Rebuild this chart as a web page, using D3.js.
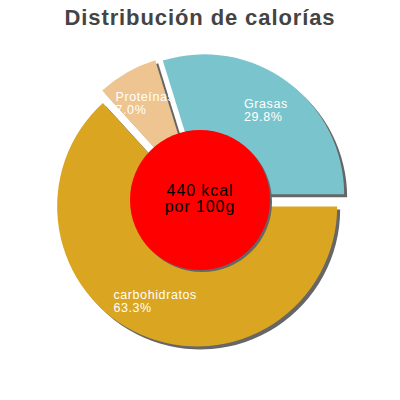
<!DOCTYPE html>
<html>
<head>
<meta charset="utf-8">
<script src="https://cdn.jsdelivr.net/npm/d3@7"></script>
<style>
  html, body { margin: 0; padding: 0; background: #fff; }
  svg { display: block; font-family: "Liberation Sans", Arial, Helvetica, sans-serif; }
</style>
</head>
<body>
<svg id="chart" width="400" height="400"></svg>
<script>
const title = "Distribución de calorías";
const categories = ["Grasas", "carbohidratos", "Proteínas"];
const values = [29.8, 63.3, 7.0];
const percentLabels = ["29.8%", "63.3%", "7.0%"];
const colors = ["#7AC5CD", "#DAA520", "#EEC591"];
const centerLines = ["440 kcal", "por 100g"];

const W = 400, H = 400;
const cx = 200, cy = 200;
const R = 140, explode = 7, labelR = 104, holeR = 70;

const svg = d3.select("#chart");

svg.append("text")
  .attr("x", W / 2)
  .attr("y", 25)
  .attr("text-anchor", "middle")
  .style("font-size", "22px")
  .style("font-weight", "bold")
  .style("letter-spacing", "0.9px")
  .style("fill", "#444444")
  .text(title);

const total = d3.sum(values);
const start = Math.PI / 2 - 2 * Math.PI * values[0] / total;
const pie = d3.pie().sort(null).value(d => d.value)
  .startAngle(start).endAngle(start + 2 * Math.PI);
const data = pie(categories.map((c, i) => ({ name: c, value: values[i], pct: percentLabels[i], color: colors[i] })));
const arc = d3.arc().innerRadius(0).outerRadius(R);

const offset = d => {
  const m = (d.startAngle + d.endAngle) / 2;
  return [explode * Math.sin(m), -explode * Math.cos(m)];
};

const g = svg.append("g").attr("transform", `translate(${cx},${cy})`);

// shadows
g.selectAll("path.shadow").data(data).join("path")
  .attr("class", "shadow")
  .attr("d", arc)
  .attr("transform", d => { const [ox, oy] = offset(d); return `translate(${ox + 3},${oy + 3})`; })
  .attr("fill", "#666666");

// slices
g.selectAll("path.slice").data(data).join("path")
  .attr("class", "slice")
  .attr("d", arc)
  .attr("transform", d => { const [ox, oy] = offset(d); return `translate(${ox},${oy})`; })
  .attr("fill", d => d.data.color);

// labels
const lab = g.selectAll("g.lab").data(data).join("g")
  .attr("class", "lab")
  .attr("transform", d => {
    const [ox, oy] = offset(d);
    const m = (d.startAngle + d.endAngle) / 2;
    return `translate(${ox + labelR * Math.sin(m)},${oy - labelR * Math.cos(m)})`;
  });
lab.each(function (d) {
  const t = d3.select(this).append("text")
    .style("font-size", "12.5px")
    .style("letter-spacing", "0.6px")
    .style("fill", "#ffffff");
  t.append("tspan").attr("x", 0).attr("y", -3).text(d.data.name);
  t.append("tspan").attr("x", 0).attr("y", 10.6).text(d.data.pct);
  let w = 0;
  t.selectAll("tspan").each(function () { w = Math.max(w, this.getComputedTextLength()); });
  t.selectAll("tspan").attr("x", -w / 2);
});

// center circle
g.append("circle").attr("cx", 2).attr("cy", 2).attr("r", holeR).attr("fill", "#666666");
g.append("circle").attr("cx", 0).attr("cy", 0).attr("r", holeR).attr("fill", "#FF0000");

const ct = g.append("text")
  .attr("text-anchor", "middle")
  .style("font-size", "16px")
  .style("letter-spacing", "0.9px")
  .style("fill", "#000000");
centerLines.forEach((s, i) => {
  ct.append("tspan").attr("x", 0).attr("y", -4.3 + i * 16).text(s);
});
</script>
</body>
</html>
